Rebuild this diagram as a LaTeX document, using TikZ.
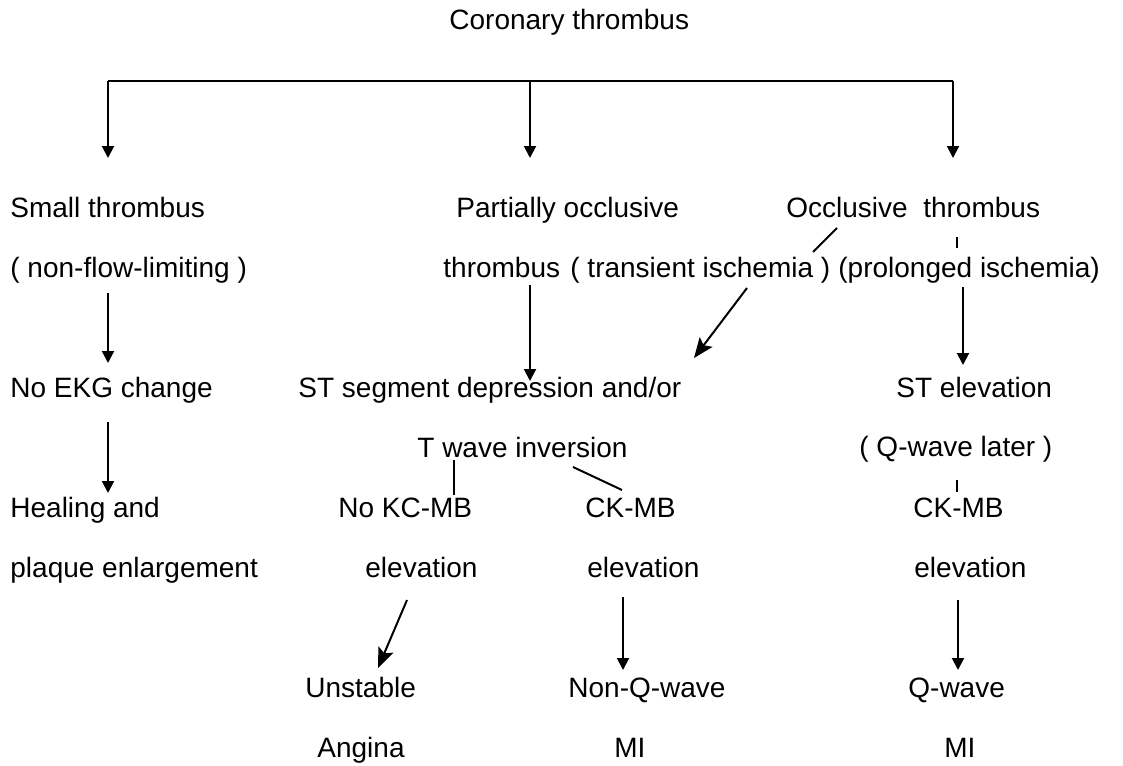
\documentclass[tikz,border=0pt]{standalone}
\usepackage{fontspec}
\setmainfont{Liberation Sans}
\usetikzlibrary{arrows.meta}
\begin{document}
\begin{tikzpicture}[x=0.5pt,y=-0.5pt,
  txt/.style={anchor=base west,inner sep=0pt,font=\fontsize{14}{16}\selectfont},
  conn/.style={line width=1pt},
  varr/.style={conn,-{Triangle[length=6pt,width=6pt]}},
  darr/.style={conn,-{Stealth[length=10pt,width=8pt,inset=2pt]}}]
\useasboundingbox (0,0) rectangle (1123,765);
% texts
\node[txt] (title) at (449,30) {Coronary thrombus};
\node[txt] (small1) at (10,217) {Small thrombus};
\node[txt] (small2) at (10,277) {( non-flow-limiting )};
\node[txt] (part1) at (456,217) {Partially occlusive};
\node[txt] (part2) at (443,277) {thrombus};
\node[txt] (trans) at (570,277) {( transient ischemia )};
\node[txt] (occl) at (786,217) {Occlusive\ \ thrombus};
\node[txt] (prol) at (838,277) {(prolonged ischemia)};
\node[txt] (noekg) at (10,397) {No EKG change};
\node[txt] (stdep) at (298,397) {ST segment depression and/or};
\node[txt] (stel) at (896,397) {ST elevation};
\node[txt] (twave) at (417,457) {T wave inversion};
\node[txt] (qlater) at (859,456) {( Q-wave later )};
\node[txt] (heal1) at (10,517) {Healing and};
\node[txt] (heal2) at (10,577) {plaque enlargement};
\node[txt] (nokc) at (338,517) {No KC-MB};
\node[txt] (ck1) at (585,517) {CK-MB};
\node[txt] (ck2) at (913,517) {CK-MB};
\node[txt] (el1) at (365,577) {elevation};
\node[txt] (el2) at (587,577) {elevation};
\node[txt] (el3) at (914,577) {elevation};
\node[txt] (unst) at (305,697) {Unstable};
\node[txt] (nonq) at (568,697) {Non-Q-wave};
\node[txt] (qw) at (908,697) {Q-wave};
\node[txt] (ang) at (317,757) {Angina};
\node[txt] (mi1) at (614,757) {MI};
\node[txt] (mi2) at (944,757) {MI};
% coordinates
\coordinate (bl) at (108,81);
\coordinate (bm) at (530,81);
\coordinate (br) at (953,81);
% top bar and arrows
\draw[conn] (bl) -- (br);
\draw[varr] (bl) -- (108,158);
\draw[varr] (bm) -- (530,158);
\draw[varr] (br) -- (953,158);
% left column
\draw[varr] (108,293) -- (108,363);
\draw[varr] (108,422) -- (108,493);
% middle column
\draw[varr] (530,285) -- (530,381);
\draw[conn] (837,228) -- (813,252);
\draw[darr] (747,288) -- (694,358);
\draw[conn] (454,460) -- (454,495);
\draw[conn] (573,467) -- (622,490);
\draw[darr] (407,600) -- (378,668);
\draw[varr] (623,597) -- (623,670);
% right column
\draw[conn] (957,237) -- (957,248);
\draw[varr] (963,287) -- (963,365);
\draw[conn] (957,480) -- (957,492);
\draw[varr] (958,600) -- (958,670);
\end{tikzpicture}
\end{document}
